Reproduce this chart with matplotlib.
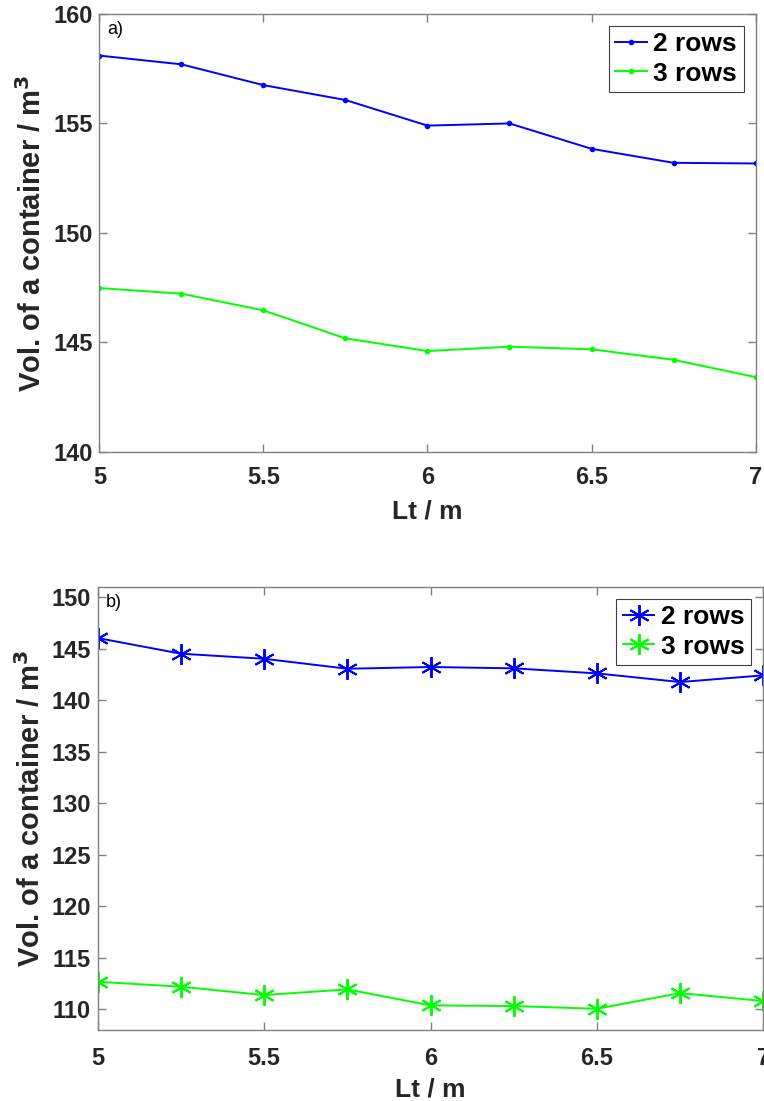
import numpy as np
import matplotlib.pyplot as plt

plt.rcParams['font.family'] = ['Liberation Sans', 'DejaVu Sans']

# Lt values (m)
lt = [5, 5.25, 5.5, 5.75, 6, 6.25, 6.5, 6.75, 7]

# panel a) volumes
a_2rows = [158.1, 157.7, 156.75, 156.07, 154.9, 155.0, 153.84, 153.2, 153.17]
a_3rows = [147.48, 147.22, 146.46, 145.18, 144.6, 144.8, 144.68, 144.2, 143.41]

# panel b) volumes
b_2rows = [146.04, 144.52, 144.03, 143.06, 143.23, 143.1, 142.61, 141.77, 142.42]
b_3rows = [112.68, 112.2, 111.39, 111.94, 110.39, 110.32, 110.06, 111.58, 110.81]

axcol = '#808080'
txtcol = '#262626'

fig = plt.figure(figsize=(7.64, 11.01), dpi=100)
ax1 = fig.add_axes([0.130, 0.5897, 0.859, 0.3976])
ax2 = fig.add_axes([0.128, 0.0645, 0.871, 0.4024])


def style(ax, xpad):
    for s in ax.spines.values():
        s.set_color(axcol)
        s.set_linewidth(1.0)
    ax.tick_params(direction='in', top=True, right=True, length=6,
                   color=axcol, labelsize=17, width=1.0)
    ax.tick_params(axis='x', pad=xpad)
    ax.tick_params(axis='y', pad=5)
    for lab in ax.get_xticklabels() + ax.get_yticklabels():
        lab.set_fontweight('bold')
        lab.set_color(txtcol)


legkw = dict(loc='upper right', prop={'weight': 'bold', 'size': 19},
             fancybox=False, edgecolor='#404040', framealpha=1,
             handlelength=1.2, handletextpad=0.25, borderpad=0.25,
             labelspacing=0.2, borderaxespad=0.45)

# top panel
ax1.plot(lt, a_2rows, color='b', marker='.', markersize=6, lw=1.4, label='2 rows')
ax1.plot(lt, a_3rows, color='#00ff00', marker='.', markersize=6, lw=1.4, label='3 rows')
ax1.set_xlim(5, 7)
ax1.set_ylim(140, 160)
ax1.set_xticks([5, 5.5, 6, 6.5, 7])
ax1.set_xticklabels(['5', '5.5', '6', '6.5', '7'])
ax1.set_yticks([140, 145, 150, 155, 160])
style(ax1, 10)
ax1.set_xlabel('Lt / m', fontsize=19, fontweight='bold', color=txtcol, labelpad=8)
ax1.set_ylabel('Vol. of a container / m$^\\mathbf{3}$', fontsize=21,
               fontweight='bold', color=txtcol, labelpad=4)
ax1.text(0.012, 0.985, 'a)', transform=ax1.transAxes, fontsize=13, va='top', ha='left')
leg1 = ax1.legend(**legkw)
leg1.get_frame().set_linewidth(0.8)

# bottom panel
ax2.plot(lt, b_2rows, color='b', marker=(6, 2, 0), markersize=15, markeredgewidth=1.4,
         lw=1.4, label='2 rows')
ax2.plot(lt, b_3rows, color='#00ff00', marker=(6, 2, 0), markersize=15, markeredgewidth=1.4,
         lw=1.4, label='3 rows')
ax2.set_xlim(5, 7)
ax2.set_ylim(108, 151)
ax2.set_xticks([5, 5.5, 6, 6.5, 7])
ax2.set_xticklabels(['5', '5.5', '6', '6.5', '7'])
ax2.set_yticks([110, 115, 120, 125, 130, 135, 140, 145, 150])
style(ax2, 12)
ax2.set_xlabel('Lt / m', fontsize=19, fontweight='bold', color=txtcol, labelpad=6)
ax2.set_ylabel('Vol. of a container / m$^\\mathbf{3}$', fontsize=21,
               fontweight='bold', color=txtcol, labelpad=4)
ax2.text(0.012, 0.985, 'b)', transform=ax2.transAxes, fontsize=13, va='top', ha='left')
leg2 = ax2.legend(**legkw)
leg2.get_frame().set_linewidth(0.8)

fig.savefig('out.png', dpi=100)
